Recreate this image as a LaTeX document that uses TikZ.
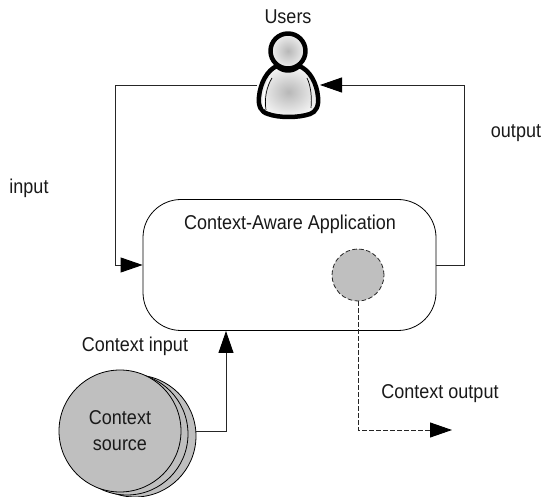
\documentclass[tikz,border=0pt]{standalone}
\usepackage{fontspec}
\setmainfont{Liberation Sans}[FakeStretch=0.9]
\usetikzlibrary{arrows.meta}
\tikzset{
  x=1pt,y=-1pt,
  lbl/.style={inner sep=0pt,font=\fontsize{20}{26}\selectfont,text=black!90,align=center},
  conn/.style={draw=black!85,line width=0.9pt},
  dashline/.style={dash pattern=on 4.5pt off 2.5pt},
  tip/.style={-{Triangle[length=22pt,width=15pt,color=black]}},
  disc/.style={circle,draw=black,fill=black!25,line width=0.8pt,minimum size=122pt,inner sep=0pt},
  figline/.style={draw=black,line width=4.5pt,line join=round},
}
\begin{document}
\begin{tikzpicture}
\useasboundingbox (0,0) rectangle (544,497);
\begin{scope}
\clip (0,0) rectangle (544,497);
\node[disc] (s3) at (135,436) {};
\node[disc] (s2) at (127,434) {};
\node[disc] (s1) at (120,431) {};
\end{scope}
\node[lbl] (srctext) at (120,431) {Context\\source};
\coordinate (srcout) at (196,431);

\node[draw=black,line width=0.8pt,rounded corners=38pt,fill=white,minimum width=293pt,minimum height=131pt,inner sep=0pt] (app) at (289.5,265) {};
\node[lbl,anchor=center] (apptext) at (290,224) {Context-Aware Application};
\node[circle,draw=black!85,dashline,fill=black!25,line width=0.8pt,minimum size=52pt,inner sep=0pt] (ctx) at (358,275) {};

% user figure
\coordinate (uL) at (257,85);
\coordinate (uR) at (320,85);
\path[figline,inner color=black!28,outer color=black!4]
  (268,114) .. controls (261,112) and (258,106) .. (259,97)
  .. controls (260,84) and (267,70) .. (277,66)
  .. controls (283,72) and (293,72) .. (299,66)
  .. controls (310,70) and (317,84) .. (318,97)
  .. controls (319,106) and (316,112) .. (310,114)
  .. controls (298,118) and (279,118) .. (268,114) -- cycle;
\path[figline,inner color=black!28,outer color=black!6] (288,51) circle (17.5pt);
\path[draw=white,line width=1.2pt] (270,78) .. controls (265,86) and (262,98) .. (264,109);
\path[draw=black,line width=0.7pt] (272,78) .. controls (267,86) and (264,98) .. (266,110);
\path[draw=black,line width=0.7pt] (307,78) .. controls (311,86) and (312,98) .. (311,108);
\node[lbl,anchor=center] (users) at (288,17) {Users};

\draw[conn,tip] (uL) -- (115,85) -- (115,265) -- (app.west);
\draw[conn,tip] (app.east) -- (464,265) -- (464,85) -- (uR);
\draw[conn,tip] (srcout) -- (226,431) -- (226,331);
\coordinate (ctxend) at (452,430);
\draw[conn,dashline,tip] (ctx.south) -- (358,430) -- (ctxend);

\node[lbl] (input) at (29,188) {input};
\node[lbl] (output) at (516,133) {output};
\node[lbl] (cin) at (135,346) {Context input};
\node[lbl] (cout) at (440,394) {Context output};
\end{tikzpicture}
\end{document}
